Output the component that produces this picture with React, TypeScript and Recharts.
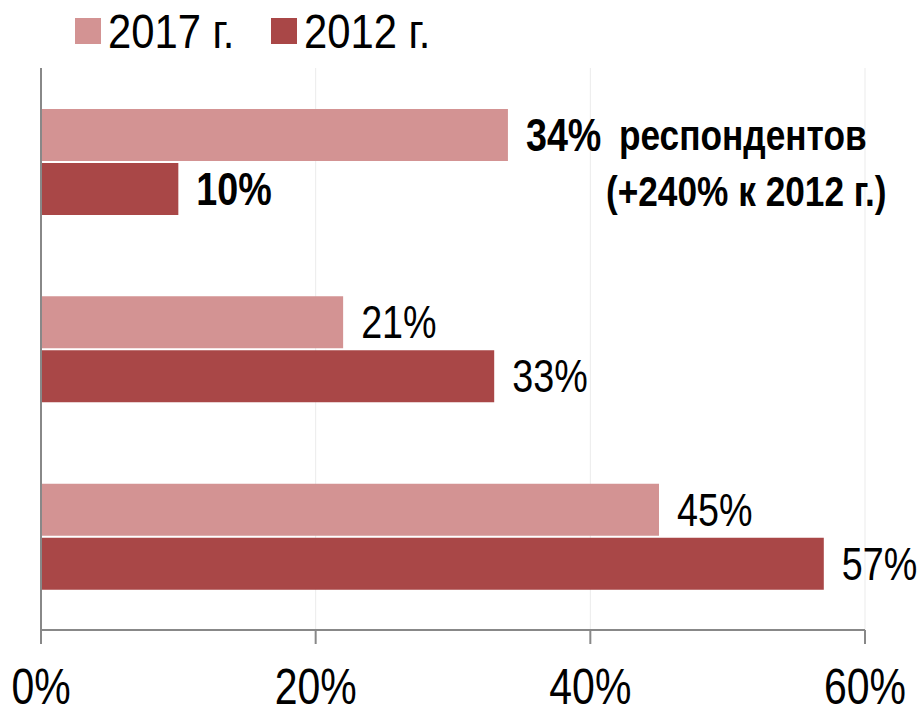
import React from "react";
import { BarChart, Bar, XAxis, YAxis, CartesianGrid, Legend, LabelList } from "recharts";

const categories = ["Группа 1", "Группа 2", "Группа 3"];
const values2017 = [34, 22, 45];
const values2012 = [10, 33, 57];
const labels2017 = ["34%", "21%", "45%"];
const labels2012 = ["10%", "33%", "57%"];
const boldCategory = [true, false, false];
const noteLine1 = "респондентов";
const noteLine2 = "(+240% к 2012 г.)";
const seriesNames = ["2017 г.", "2012 г."];
const xTicks = [0, 20, 40, 60];
const bandTicks = [0, 1, 2, 3];

const COLOR_2017 = "#D39393";
const COLOR_2012 = "#A94747";
const FONT = "'Liberation Sans', Arial, sans-serif";
const FS = 46;
const SX = 0.82; // horizontal condensing to imitate a narrow face

const data = categories.map((c, i) => ({
  name: c,
  v2017: values2017[i],
  v2012: values2012[i],
}));

const NarrowText = ({ x, y, children, size = FS, weight = 400, anchor = "start", baseline = "central" }: any) => (
  <g transform={`translate(${x} ${y}) scale(${SX} 1)`}>
    <text
      x={0}
      y={0}
      textAnchor={anchor}
      dominantBaseline={baseline}
      fontFamily={FONT}
      fontSize={size}
      fontWeight={weight}
      fill="#000"
    >
      {children}
    </text>
  </g>
);

const makeLabel = (labels: string[], withNote: boolean) => (props: any) => {
  const { x, y, width, height, index } = props;
  const tx = Number(x) + Number(width) + 18;
  const ty = Number(y) + Number(height) / 2;
  const bold = boldCategory[index];
  return (
    <g>
      <NarrowText x={tx} y={ty} weight={bold ? 700 : 400}>
        {labels[index]}
      </NarrowText>
      {withNote && bold ? (
        <NarrowText x={tx + 93} y={ty} size={43} weight={700}>
          {noteLine1}
        </NarrowText>
      ) : null}
      {withNote && bold ? (
        <NarrowText x={tx + 80} y={ty + 56} size={43} weight={700}>
          {noteLine2}
        </NarrowText>
      ) : null}
    </g>
  );
};

const XTick = (props: any) => {
  const { x, y, payload } = props;
  return (
    <NarrowText x={x} y={Number(y) + 58} size={50} anchor="middle" baseline="alphabetic">
      {`${payload.value}%`}
    </NarrowText>
  );
};

const LegendContent = () => {
  const colors = [COLOR_2017, COLOR_2012];
  const lefts = [75, 271];
  return (
    <div style={{ position: "relative", width: 922, height: 60 }}>
      {seriesNames.map((n, i) => (
        <div
          key={n}
          style={{
            position: "absolute",
            left: lefts[i],
            top: 0,
            height: 62,
            display: "flex",
            alignItems: "center",
            fontFamily: FONT,
            fontSize: 49,
            color: "#000",
            whiteSpace: "nowrap",
          }}
        >
          <span style={{ display: "inline-block", width: 26, height: 26, background: colors[i], marginRight: 7 }} />
          <span
            style={{
              display: "inline-block",
              lineHeight: "49px",
              transform: `scaleX(${SX * 1.04})`,
              transformOrigin: "left center",
            }}
          >
            {n}
          </span>
        </div>
      ))}
    </div>
  );
};

export default function App() {
  return (
    <div style={{ width: 922, height: 705, position: "absolute", left: 0, top: 0, background: "#fff", overflow: "hidden" }}>
      <BarChart
        width={922}
        height={705}
        data={data}
        layout="vertical"
        margin={{ top: 8, right: 57, left: 0, bottom: 0 }}
        barSize={52}
        barGap={2}
      >
        <Legend
          verticalAlign="top"
          align="left"
          content={<LegendContent />}
          wrapperStyle={{ top: 0, left: 0, width: 922, height: 60 }}
        />
        <CartesianGrid horizontal={false} vertical={true} stroke="#ebebeb" />
        <XAxis
          type="number"
          domain={[0, 60]}
          ticks={xTicks}
          height={75}
          tickSize={14}
          tickMargin={2}
          axisLine={{ stroke: "#888", strokeWidth: 2 }}
          tickLine={{ stroke: "#888", strokeWidth: 2 }}
          tick={<XTick />}
          interval={0}
        />
        <YAxis type="category" dataKey="name" yAxisId="cat" hide />
        <YAxis
          type="number"
          yAxisId="band"
          domain={[0, 3]}
          ticks={bandTicks}
          width={41}
          tickSize={15}
          tick={false}
          axisLine={{ stroke: "#888", strokeWidth: 2 }}
          tickLine={{ stroke: "#888", strokeWidth: 2 }}
        />
        <Bar dataKey="v2017" yAxisId="cat" fill={COLOR_2017} isAnimationActive={false}>
          <LabelList dataKey="v2017" content={makeLabel(labels2017, true)} />
        </Bar>
        <Bar dataKey="v2012" yAxisId="cat" fill={COLOR_2012} isAnimationActive={false}>
          <LabelList dataKey="v2012" content={makeLabel(labels2012, false)} />
        </Bar>
      </BarChart>
    </div>
  );
}
